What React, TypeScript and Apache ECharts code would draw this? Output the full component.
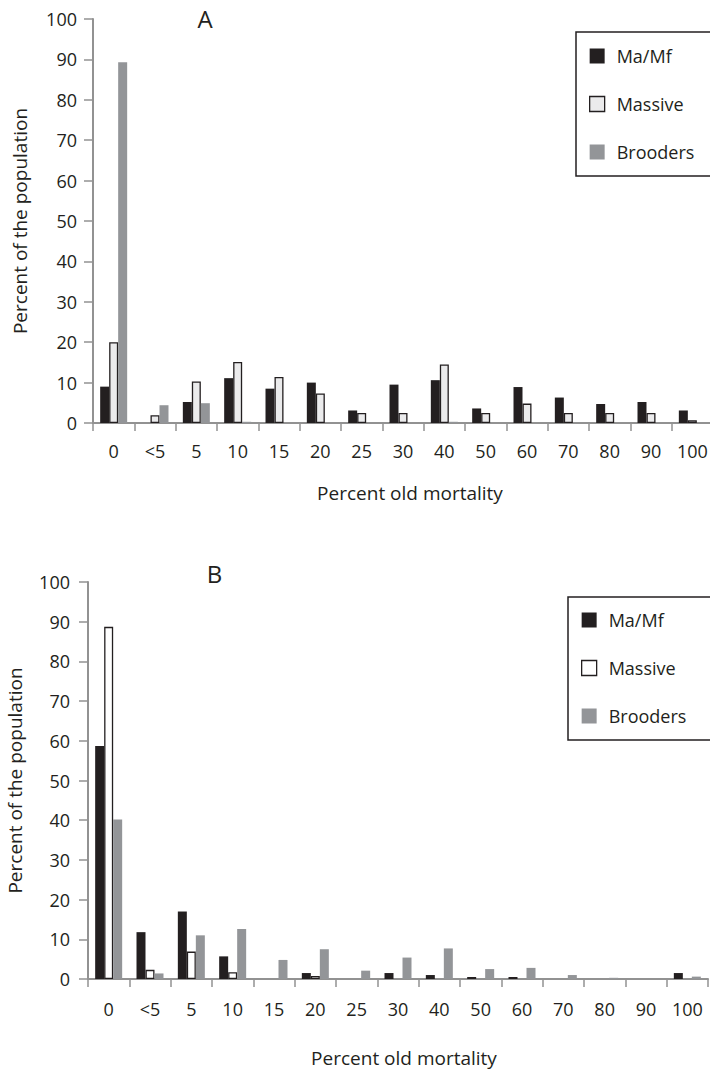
import React, { useEffect, useRef } from "react";
import * as echarts from "echarts";

const categories = ["0", "<5", "5", "10", "15", "20", "25", "30", "40", "50", "60", "70", "80", "90", "100"];
const seriesNames = ["Ma/Mf", "Massive", "Brooders"];
const panelTitles = ["A", "B"];

// Panel A
const aMaMf = [9.0, 0, 5.2, 11.1, 8.5, 10.0, 3.1, 9.5, 10.6, 3.6, 8.9, 6.3, 4.7, 5.2, 3.1];
const aMassive = [20.0, 1.9, 10.3, 15.1, 11.4, 7.3, 2.5, 2.5, 14.5, 2.5, 4.8, 2.5, 2.5, 2.5, 0.7];
const aBrooders = [89.3, 4.4, 4.9, 0.3, 0, 0, 0, 0, 0.3, 0, 0, 0, 0, 0, 0];

// Panel B
const bMaMf = [58.7, 11.8, 17.0, 5.7, 0, 1.5, 0, 1.5, 1.0, 0.5, 0.5, 0, 0, 0, 1.5];
const bMassive = [88.7, 2.3, 6.9, 1.7, 0, 0.75, 0, 0, 0, 0, 0, 0, 0, 0, 0];
const bBrooders = [40.2, 1.4, 11.0, 12.6, 4.8, 7.5, 2.1, 5.4, 7.7, 2.5, 2.8, 1.0, 0.3, 0, 0.6];

const yTicks = { min: 0, max: 100, interval: 10 };

const BLACK = "#231f20";
const GREY = "#939598";
const LIGHT = "#ebebec";
const AXIS = "#929292";
const FONT = "'Open Sans', sans-serif";

export default function App() {
  const ref = useRef<HTMLDivElement>(null);
  useEffect(() => {
    if (!ref.current) return;
    const chart = echarts.init(ref.current, undefined, { renderer: "svg" });

    const xAxisBase = (gridIndex: number, nameGap: number, labelMargin: number, shift: number) => ({
      type: "category",
      gridIndex,
      data: categories,
      boundaryGap: true,
      name: "Percent old mortality",
      nameLocation: "middle",
      nameGap,
      nameTextStyle: { fontSize: 19, color: BLACK, fontFamily: FONT, padding: [0, 0, 0, shift] },
      axisLine: { lineStyle: { color: AXIS, width: 2 } },
      axisTick: { show: true, length: 8, lineStyle: { color: AXIS, width: 1.5 }, alignWithLabel: false },
      axisLabel: { fontSize: 18, color: BLACK, fontFamily: FONT, margin: labelMargin, interval: 0 },
      splitLine: { show: false },
    });
    const yAxisBase = (gridIndex: number, nameGap: number, labelMargin: number) => ({
      type: "value",
      gridIndex,
      min: yTicks.min,
      max: yTicks.max,
      interval: yTicks.interval,
      name: "Percent of the population",
      nameLocation: "middle",
      nameGap,
      nameTextStyle: { fontSize: 19, color: BLACK, fontFamily: FONT },
      axisLine: { show: true, lineStyle: { color: AXIS, width: 2 } },
      axisTick: { show: true, length: 9, lineStyle: { color: AXIS, width: 1.5 } },
      axisLabel: { fontSize: 18, color: BLACK, fontFamily: FONT, margin: labelMargin },
      splitLine: { show: false },
    });

    const bar = (name: string, data: number[], idx: number, style: any) => ({
      type: "bar",
      name,
      data: data.map((v) => (v === 0 ? null : v)),
      xAxisIndex: idx,
      yAxisIndex: idx,
      barWidth: 9,
      barGap: "0%",
      itemStyle: style,
      silent: true,
    });

    const blackStyle = { color: BLACK };
    const greyStyle = { color: GREY };
    const massiveA = { color: LIGHT, borderColor: BLACK, borderWidth: 1.3 };
    const massiveB = { color: "#ffffff", borderColor: BLACK, borderWidth: 1.3 };

    const legendBase = (left: number, top: number, massiveStyle: any, padding: number[]) => ({
      orient: "vertical",
      left,
      top,
      padding,
      itemGap: 30,
      itemWidth: 15,
      itemHeight: 15,
      borderColor: BLACK,
      borderWidth: 1.5,
      selectedMode: false,
      textStyle: { fontSize: 18, color: BLACK, fontFamily: FONT, lineHeight: 18, padding: [0, 0, 0, 7] },
      data: [
        { name: seriesNames[0], icon: "rect", itemStyle: { color: BLACK, borderWidth: 0 } },
        { name: seriesNames[1], icon: "rect", itemStyle: massiveStyle },
        { name: seriesNames[2], icon: "rect", itemStyle: { color: GREY, borderWidth: 0 } },
      ],
    });

    chart.setOption({
      animation: false,
      textStyle: { fontFamily: FONT },
      graphic: [
        {
          type: "text",
          x: 205,
          y: 18.5,
          style: { text: panelTitles[0], fill: BLACK, font: `24px ${FONT}`, align: "center", verticalAlign: "middle" },
        },
        {
          type: "text",
          x: 214.5,
          y: 573.5,
          style: { text: panelTitles[1], fill: BLACK, font: `24px ${FONT}`, align: "center", verticalAlign: "middle" },
        },
      ],
      grid: [
        { left: 93, top: 19, width: 620, height: 404, outerBoundsMode: "none", containLabel: false },
        { left: 88, top: 582, width: 620, height: 397, outerBoundsMode: "none", containLabel: false },
      ],
      xAxis: [xAxisBase(0, 60, 19, 14), xAxisBase(1, 69, 21, 12)],
      yAxis: [yAxisBase(0, 64, 16), yAxisBase(1, 64, 18)],
      legend: [
        legendBase(576, 32, massiveA, [15, 30, 15, 13]),
        legendBase(568, 597, massiveB, [14, 30, 15, 13]),
      ],
      series: [
        bar(seriesNames[0], aMaMf, 0, blackStyle),
        bar(seriesNames[1], aMassive, 0, massiveA),
        bar(seriesNames[2], aBrooders, 0, greyStyle),
        bar(seriesNames[0], bMaMf, 1, blackStyle),
        bar(seriesNames[1], bMassive, 1, massiveB),
        bar(seriesNames[2], bBrooders, 1, greyStyle),
      ],
    });
    return () => chart.dispose();
  }, []);
  return (
    <div
      ref={ref}
      style={{ position: "absolute", left: 0, top: 0, width: 710, height: 1071, background: "#ffffff" }}
    />
  );
}
